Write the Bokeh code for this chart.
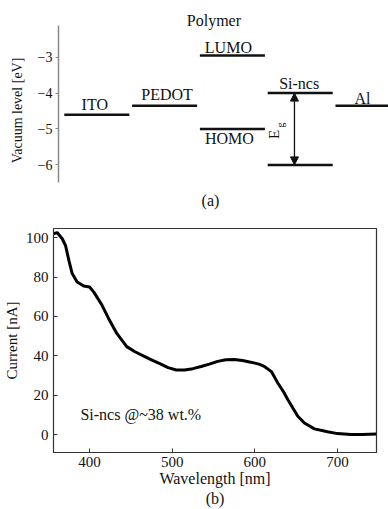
import math
from bokeh.plotting import figure
from bokeh.models import Range1d, FixedTicker, Arrow, NormalHead, Label
from bokeh.core.properties import value
from bokeh.embed import file_html
from bokeh.resources import INLINE

FONT = "Liberation Serif"
INK = "#111111"

# ---------------- data: (a) energy levels ----------------
level_names = ["ITO", "PEDOT", "LUMO", "HOMO", "Si-ncs CB", "Si-ncs VB", "Al"]
level_slot = [0, 1, 2, 2, 3, 3, 4]
level_energy = [-4.6, -4.35, -2.95, -5.0, -4.0, -6.0, -4.35]

label_text = ["ITO", "PEDOT", "LUMO", "HOMO", "Si-ncs", "Al"]
label_level = [0, 1, 2, 3, 4, 6]          # index into level arrays
label_above = [True, True, True, False, True, True]

yticks_a = [-3, -4, -5, -6]

# ---------------- data: (b) photocurrent spectrum ----------------
wavelength = [356, 361, 367, 371, 375, 379, 385, 393, 400, 405, 415, 423, 433, 445, 455,
              465, 475, 485, 495, 505, 515, 525, 535, 545, 555, 565, 575, 585, 595, 605,
              612, 620, 628, 635, 640, 646, 652, 660, 672, 688, 700, 716, 730, 747]
current = [102, 102.5, 99.5, 96, 88.5, 81.8, 77.5, 75.5, 75, 72.5, 65.8, 59, 51.4, 44.7, 42.1,
           40, 38, 36, 34, 32.8, 32.8, 33.5, 34.6, 35.8, 37.2, 38, 38.2, 37.6, 36.8, 35.8,
           34.5, 32, 26.1, 21.5, 17.7, 13.5, 9.3, 5.9, 2.9, 1.4, 0.5, 0, 0.1, 0.3]
xticks_b = [400, 500, 600, 700]
yticks_b = [0, 20, 40, 60, 80, 100]
note_b = "Si-ncs @~38 wt.%"

# ---------------- styling / layout (not data) ----------------
SEG_W = 0.959                                    # level bar width in slot units
LABEL_DX = [-2, 2.5, -4, -3, -1, -5.5]           # px nudges of level labels
LABEL_GAP = [10.5, 10.7, 8, 1, 10, 7]            # px gap between label and bar

# ---------------- figure (a) ----------------
pa = figure(width=388, height=220, output_backend="svg", toolbar_location=None,
            x_range=Range1d(-0.0855, 4.782), y_range=Range1d(-7.549, -1.421),
            min_border_left=58, min_border_right=0, min_border_top=0, min_border_bottom=0)
pa.xaxis.visible = False
pa.grid.visible = False
pa.outline_line_color = None

ya = pa.yaxis[0]
ya.bounds = (-6.49, -2.12)
ya.ticker = FixedTicker(ticks=yticks_a)
ya.major_label_overrides = {t: "\u2212" + str(abs(t)) for t in yticks_a}
ya.major_label_text_font = FONT
ya.major_label_text_font_size = "14px"
ya.major_label_text_color = INK
ya.major_label_standoff = 3
ya.axis_line_color = "#8a8a8a"
ya.axis_line_width = 1.5
ya.major_tick_line_color = "#8a8a8a"
ya.major_tick_in = 0
ya.major_tick_out = 3
ya.minor_tick_line_color = None
ya.axis_label = "Vacuum level [eV]"
ya.axis_label_text_font = FONT
ya.axis_label_text_font_style = "normal"
ya.axis_label_text_font_size = "14px"
ya.axis_label_text_color = INK
ya.axis_label_standoff = 10

pa.segment(x0=level_slot, y0=level_energy, x1=[s + SEG_W for s in level_slot], y1=level_energy,
           line_color=INK, line_width=2.5)

for t, li, above, dx, gap in zip(label_text, label_level, label_above, LABEL_DX, LABEL_GAP):
    pa.text(x=[level_slot[li] + SEG_W / 2], y=[level_energy[li]], text=[t], text_font=value(FONT),
            text_font_size="16px", text_align="center",
            text_baseline="alphabetic" if above else "top",
            x_offset=dx, y_offset=-gap if above else gap, text_color=INK)

# Polymer heading above LUMO
pa.text(x=[level_slot[2] + SEG_W / 2], y=[level_energy[2]], text=["Polymer"], text_font=value(FONT),
        text_font_size="16px", text_align="center", text_baseline="alphabetic",
        x_offset=-18.5, y_offset=-35, text_color=INK)

# band-gap arrow and its rotated E_g label
ax = level_slot[4] + 0.395
head = dict(size=8, fill_color=INK, line_color=INK)
pa.add_layout(Arrow(x_start=ax, y_start=level_energy[4], x_end=ax, y_end=level_energy[5],
                    line_width=1.3, line_color=INK,
                    start=NormalHead(**head), end=NormalHead(**head)))
pa.text(x=[ax - 0.30], y=[-5.15], text=["E"], angle=math.pi / 2, text_font=value(FONT),
        text_font_size="15px", text_align="center", text_baseline="middle", text_color=INK)
pa.text(x=[ax - 0.21], y=[-4.89], text=["g"], angle=math.pi / 2, text_font=value(FONT),
        text_font_size="10px", text_align="center", text_baseline="middle", text_color=INK)

pa.add_layout(Label(x=2.156, y=-6.99, text="(a)", text_font=FONT, text_font_size="16px",
                    text_align="center", text_baseline="alphabetic", text_color=INK))

# ---------------- figure (b) ----------------
pb = figure(width=388, height=289, output_backend="svg", toolbar_location=None,
            x_range=Range1d(356.4, 747.2), y_range=Range1d(-9.1, 104.7),
            min_border_left=51, min_border_right=12, min_border_top=8, min_border_bottom=56)
pb.grid.visible = False
pb.outline_line_color = "#333333"
pb.outline_line_width = 1.2

for axis in (pb.xaxis[0], pb.yaxis[0]):
    axis.major_label_text_font = FONT
    axis.major_label_text_font_size = "15px"
    axis.major_label_text_color = INK
    axis.major_tick_in = 4
    axis.major_tick_out = 0
    axis.minor_tick_line_color = None
    axis.axis_line_color = "#333333"
    axis.major_tick_line_color = "#333333"
    axis.axis_label_text_font = FONT
    axis.axis_label_text_font_style = "normal"
    axis.axis_label_text_color = INK

xb = pb.xaxis[0]
xb.ticker = FixedTicker(ticks=xticks_b)
xb.major_label_standoff = 4
xb.axis_label = "Wavelength [nm]\n(b)"
xb.axis_label_text_font_size = "16px"
xb.axis_label_standoff = 0

yb = pb.yaxis[0]
yb.ticker = FixedTicker(ticks=yticks_b)
yb.major_label_standoff = 5
yb.axis_label = "Current [nA]"
yb.axis_label_text_font_size = "15px"
yb.axis_label_standoff = 3

pb.line(wavelength, current, line_color="#000000", line_width=3, line_join="round")
pb.text(x=[389], y=[10.1], text=[note_b], text_font=value(FONT), text_font_size="16px",
        text_align="left", text_baseline="middle", text_color=INK)

open("out.html", "w").write(file_html([pa, pb], INLINE))
